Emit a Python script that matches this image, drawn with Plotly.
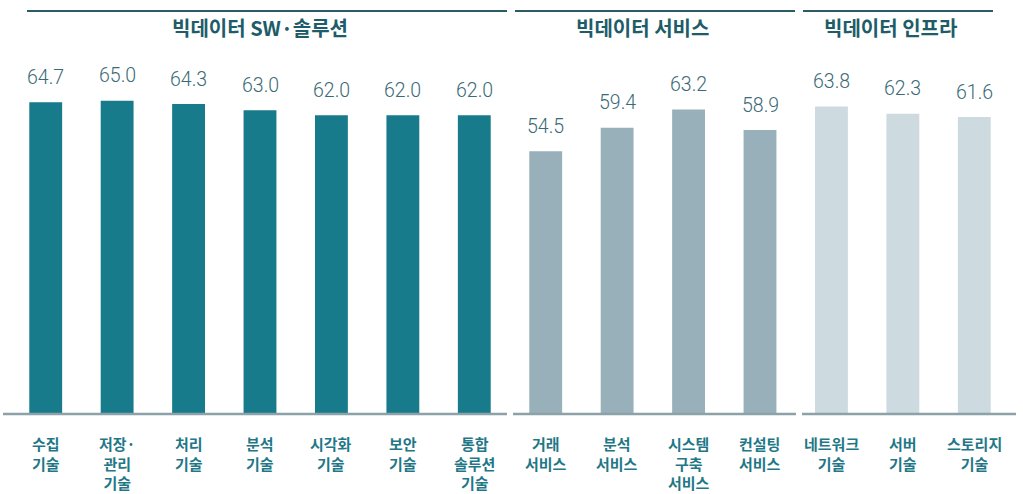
import plotly.graph_objects as go

categories = ["수집<br>기술", "저장·<br>관리<br>기술", "처리<br>기술", "분석<br>기술", "시각화<br>기술",
              "보안<br>기술", "통합<br>솔루션<br>기술",
              "거래<br>서비스", "분석<br>서비스", "시스템<br>구축<br>서비스", "컨설팅<br>서비스",
              "네트워크<br>기술", "서버<br>기술", "스토리지<br>기술"]
values = [64.7, 65.0, 64.3, 63.0, 62.0, 62.0, 62.0,
          54.5, 59.4, 63.2, 58.9,
          63.8, 62.3, 61.6]
groups = ["sw"] * 7 + ["svc"] * 4 + ["infra"] * 3
group_titles = ["빅데이터 SW·솔루션", "빅데이터 서비스", "빅데이터 인프라"]

group_colors = {"sw": "#177b8b", "svc": "#98b0b9", "infra": "#cddadf"}

W, H = 1023, 494
L, R, T, B = 10, 13, 10, 80
plot_w = W - L - R
plot_h = H - T - B


def px_x(px):
    return (px - L) / plot_w


def px_y(py):
    return (H - B - py) / plot_h


xs = list(range(len(categories)))
fig = go.Figure()
fig.add_trace(go.Bar(
    x=xs, y=values,
    marker=dict(color=[group_colors[g] for g in groups], line=dict(width=0)),
    width=0.46,
    hoverinfo="skip",
))

annotations = []
# value labels
for i, v in enumerate(values):
    annotations.append(dict(
        x=i, y=v, xref="x", yref="y", text=f"{v:.1f}", showarrow=False,
        yshift=25, yanchor="middle",
        font=dict(family="Roboto, Liberation Sans, sans-serif", size=19.5, color="#3a6a75", weight=300),
    ))
# category labels
for i, c in enumerate(categories):
    annotations.append(dict(
        x=i, y=0, xref="x", yref="paper", text=c, showarrow=False,
        yshift=-17, yanchor="top", align="center",
        font=dict(family="Noto Sans CJK KR", size=15, color="#1f7787", weight=700),
    ))
# group titles
title_px = [260, 642, 890]
for t, px in zip(group_titles, title_px):
    annotations.append(dict(
        x=px_x(px), y=px_y(27), xref="paper", yref="paper", text=t, showarrow=False,
        xanchor="center", yanchor="middle",
        font=dict(family="Noto Sans CJK KR", size=20, color="#1d5c68", weight=700),
    ))

shapes = []
top_segments = [(27, 507), (515, 795), (803, 993)]
for a, b in top_segments:
    shapes.append(dict(type="line", xref="paper", yref="paper",
                       x0=px_x(a), x1=px_x(b), y0=px_y(11), y1=px_y(11),
                       line=dict(color="#2a5e67", width=2)))
bottom_segments = [(3, 507), (513, 796), (802, 1016)]
for a, b in bottom_segments:
    shapes.append(dict(type="line", xref="paper", yref="paper",
                       x0=px_x(a), x1=px_x(b), y0=px_y(414), y1=px_y(414),
                       line=dict(color="#8da1a9", width=2.5)))

fig.update_layout(
    width=W, height=H,
    margin=dict(l=L, r=R, t=T, b=B),
    paper_bgcolor="white", plot_bgcolor="white",
    showlegend=False,
    xaxis=dict(range=[-0.5, len(categories) - 0.5], showticklabels=False, showgrid=False,
               zeroline=False, showline=False, fixedrange=True),
    yaxis=dict(range=[0, plot_h / 4.82], showticklabels=False, showgrid=False,
               zeroline=False, showline=False, fixedrange=True),
    annotations=annotations,
    shapes=shapes,
)

fig.write_html("out.html",
               config={"displayModeBar": False, "staticPlot": True},
               post_script="document.body.style.margin='0px';document.body.style.overflow='hidden';")
